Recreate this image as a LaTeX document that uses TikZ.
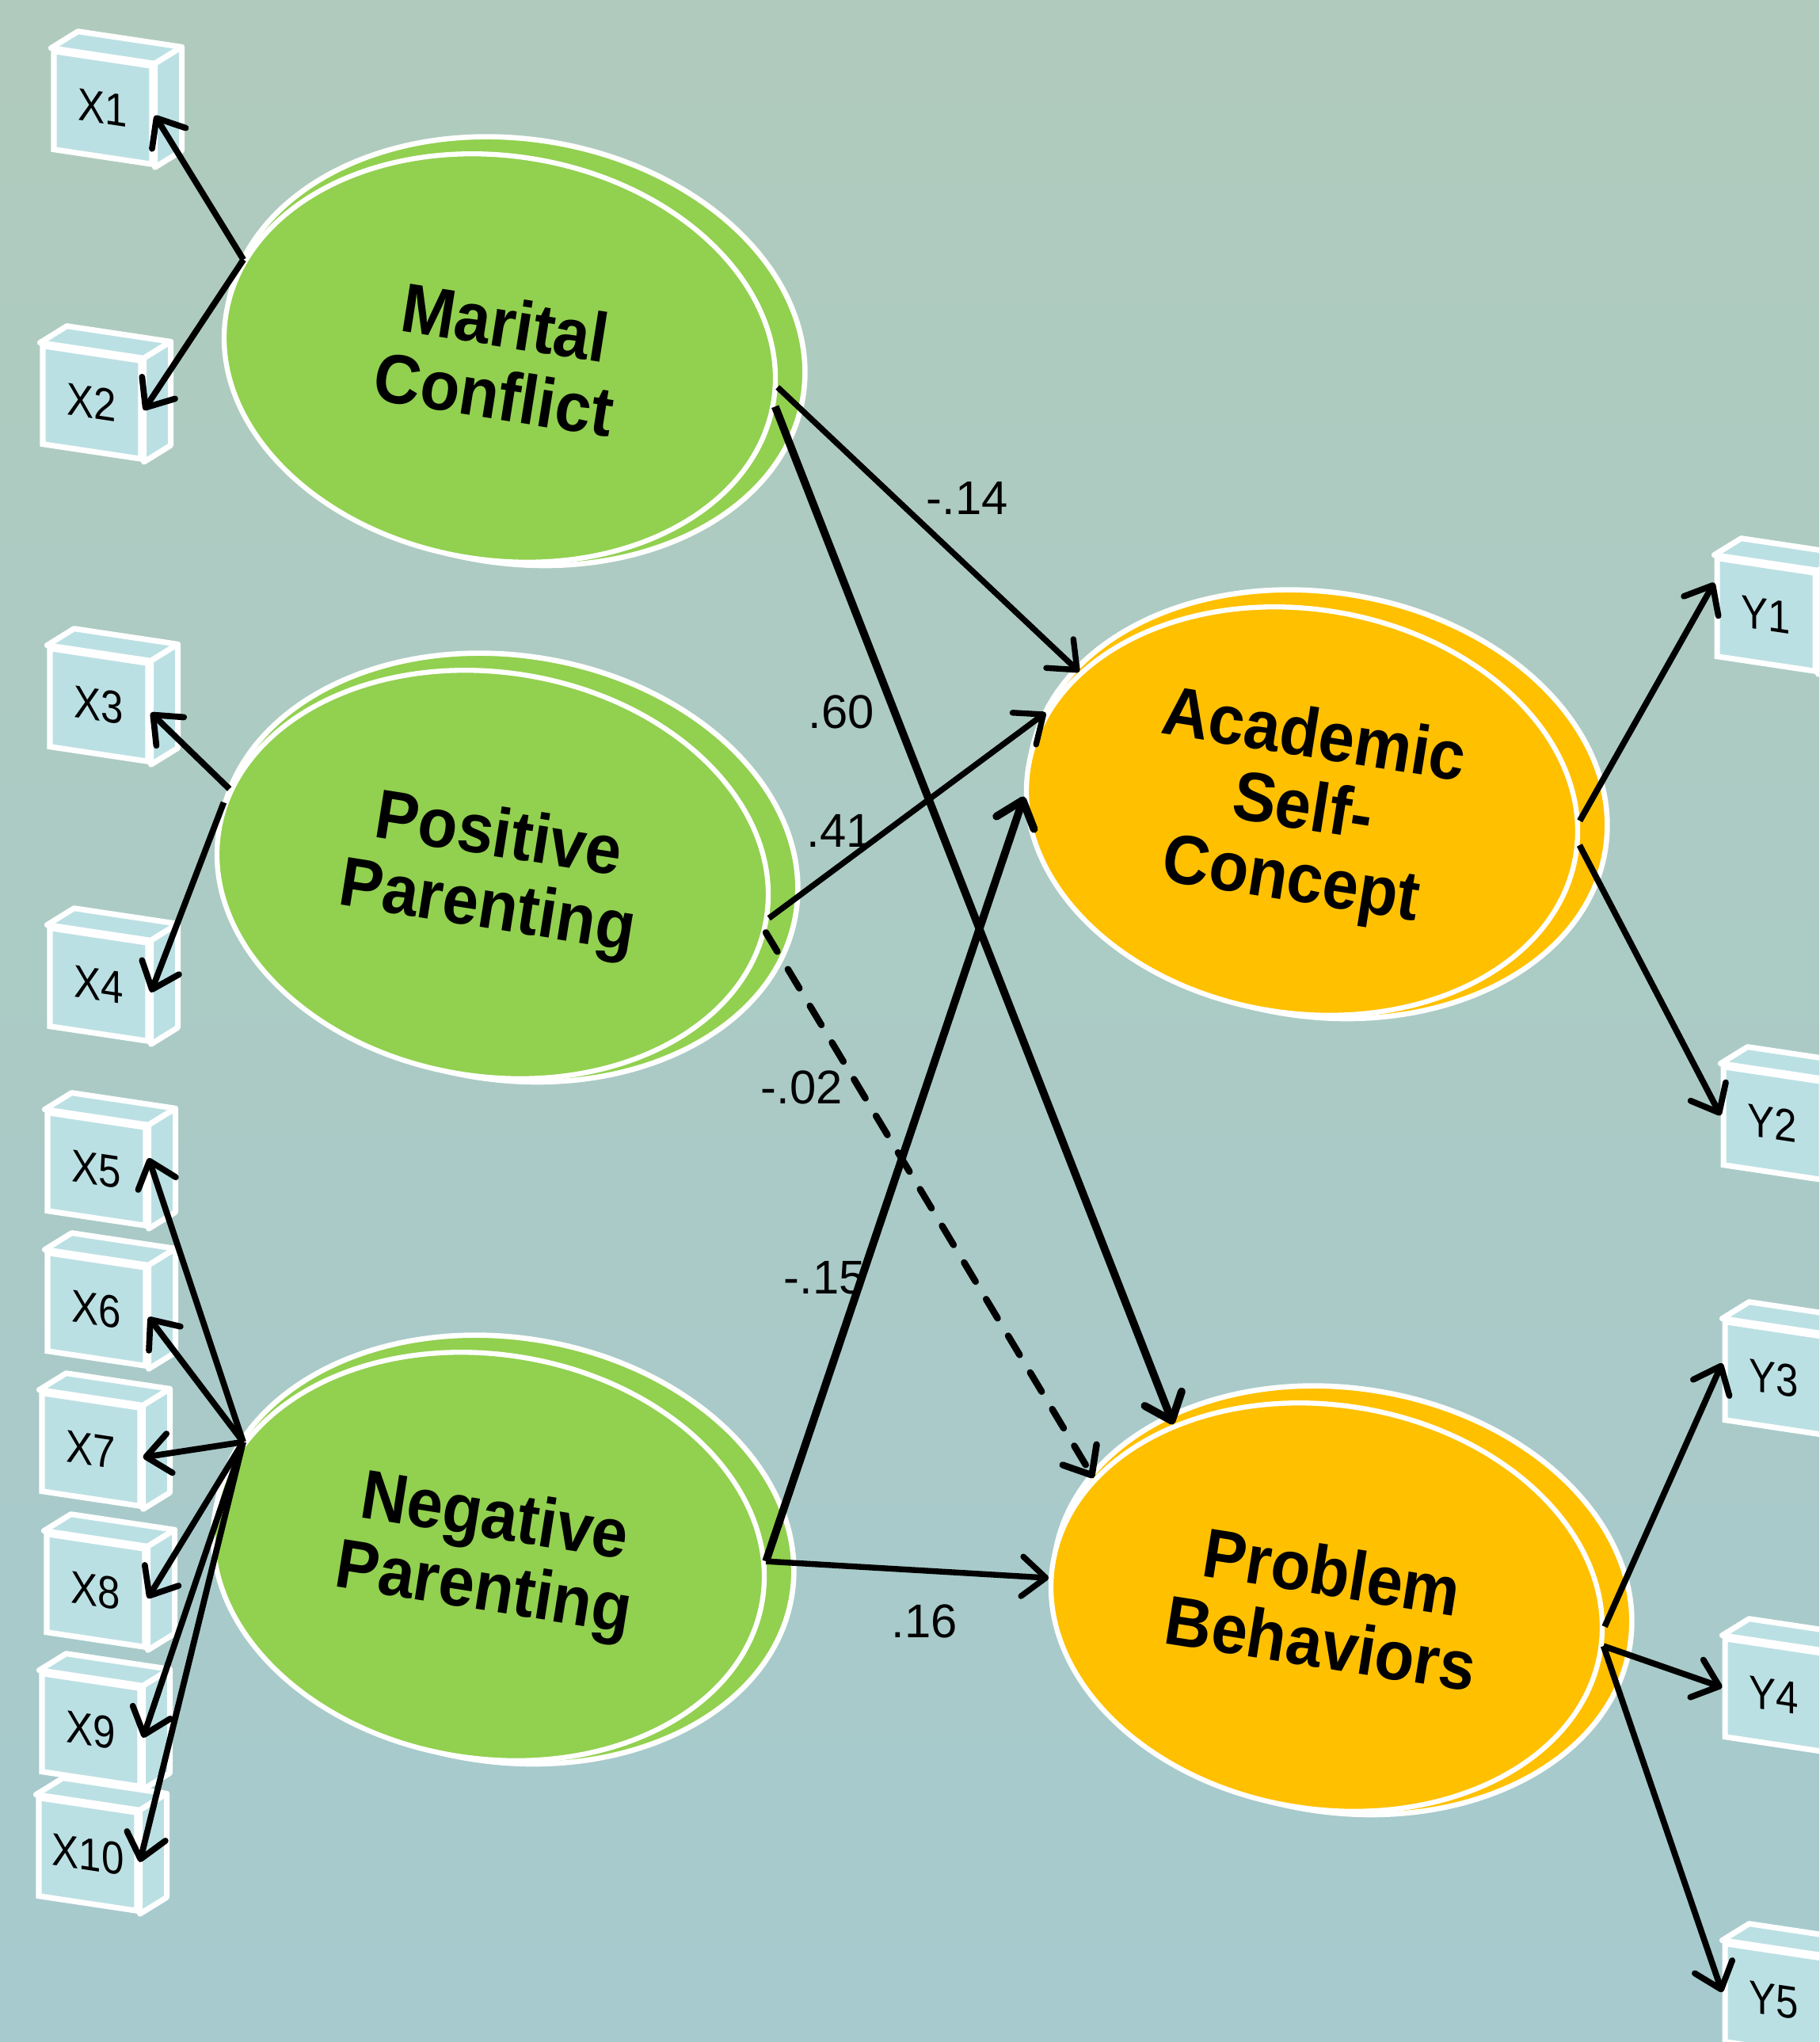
\documentclass[tikz,border=0pt]{standalone}
\usepackage{fontspec}
\setmainfont{Liberation Sans}
\newfontfamily\latentfont[FakeStretch=0.93]{Liberation Sans}
\newfontfamily\boxfont[FakeStretch=0.88]{Liberation Sans}
\usetikzlibrary{shapes.geometric, arrows.meta, shadows}

\definecolor{bgtop}{RGB}{176,203,189}
\definecolor{bgmid}{RGB}{157,192,195}
\definecolor{bgbot}{RGB}{166,202,206}
\definecolor{latgreen}{RGB}{146,208,80}
\definecolor{latorange}{RGB}{255,192,0}
\definecolor{boxblue}{RGB}{187,224,228}

% top and right face of an indicator box
\newcommand{\drawcube}[1]{%
    \filldraw[cubeside] (#1.north west) -- ++(0.34,0.21) -- ([shift={(0.34,0.21)}]#1.north east) -- (#1.north east) -- cycle;
    \filldraw[cubeside] (#1.north east) -- ++(0.34,0.21) -- ([shift={(0.34,0.21)}]#1.south east) -- (#1.south east) -- cycle;
}

\begin{document}
\begin{tikzpicture}[>={Straight Barb[round, length=0.3cm, width=0.5cm]},
    latent/.style={ellipse, draw=white, line width=1.8pt, minimum width=7cm, minimum height=5.1cm, inner sep=0pt, rotate=-9, align=center,
        font=\latentfont\bfseries\fontsize{25}{26}\selectfont,
        copy shadow={shadow xshift=0.19cm, shadow yshift=0.09cm, shadow scale=1.05}},
    indicator/.style={rectangle, draw=white, line width=2pt, fill=boxblue, minimum width=1.24cm, minimum height=1.24cm, inner sep=0pt, yslant=-0.15,
        font=\boxfont\fontsize{16.5}{18}\selectfont},
    cubeside/.style={draw=white, line width=2pt, fill=boxblue, line join=round},
    effect/.style={->, line width=2.1pt},
    loading/.style={->, line width=2.2pt},
    coef/.style={font=\fontsize{17}{20}\selectfont}]

    % Background
    \useasboundingbox (0,-25.78) rectangle (22.97,0);
    \clip (0,-25.78) rectangle (22.97,0);
    \shade[top color=bgtop, middle color=bgmid, bottom color=bgbot] (0,-25.78) rectangle (22.97,0);

    % Latent variables
    \node[latent, fill=latgreen] (mc) at (6.31,-4.52) {Marital\\Conflict};
    \node[latent, fill=latgreen] (pp) at (6.22,-11.04) {Positive\\Parenting};
    \node[latent, fill=latgreen] (np) at (6.17,-19.65) {Negative\\Parenting};
    \node[latent, fill=latorange] (asc) at (16.44,-10.24) {Academic\\Self-\\Concept};
    \node[latent, fill=latorange] (pb) at (16.75,-20.29) {Problem\\Behaviors};

    % Indicators
    \foreach \n/\x/\y in {1/1.30/-1.36, 2/1.16/-5.08, 3/1.25/-8.90, 4/1.25/-12.43, 5/1.22/-14.76,
                          6/1.22/-16.53, 7/1.15/-18.30, 8/1.21/-20.08, 9/1.15/-21.84, 10/1.11/-23.41} {
        \node[indicator] (x\n) at (\x,\y) {X\n};
        \drawcube{x\n}
    }
    \foreach \n/\x/\y in {1/22.30/-7.76, 2/22.38/-14.18, 3/22.40/-17.40, 4/22.40/-21.40, 5/22.40/-25.25} {
        \node[indicator] (y\n) at (\x,\y) {Y\n};
        \drawcube{y\n}
    }

    % Loadings
    \draw[loading] (mc.168) -- (x1.east);
    \draw[loading] (mc.168) -- (x2.east);
    \draw[loading] (pp.171) -- (x3.east);
    \draw[loading] (pp.174) -- (x4.east);
    \draw[loading] (np.164) -- (x5.20);
    \foreach \n in {6,...,10}
        \draw[loading] (np.164) -- (x\n.east);
    \draw[loading] (asc.7) -- (y1.155);
    \draw[loading] (asc.2) -- (y2.west);
    \draw[loading] (pb.5) -- (y3.172);
    \draw[loading] (pb.1) -- (y4.west);
    \draw[loading] (pb.1) -- (y5.west);

    % Paths
    \draw[effect] (mc.3) -- (asc.157);
    \draw[effect, line width=2.8pt] (mc.359) -- (pb.139);
    \draw[effect] (pp.0) -- (asc.168);
    \draw[effect, line width=2.4pt, line cap=round, dash pattern=on 0.28cm off 0.26cm] (pp.357) -- (pb.160);
    \draw[effect, line width=2.8pt] (np.8) -- (asc.186);
    \draw[effect] (np.8) -- (pb.183);

    \node[coef] (c1) at (12.21,-6.29) {-.14};
    \node[coef] (c2) at (10.62,-8.99) {.60};
    \node[coef] (c3) at (10.60,-10.49) {.41};
    \node[coef] (c4) at (10.12,-13.73) {-.02};
    \node[coef] (c5) at (10.41,-16.13) {-.15};
    \node[coef] (c6) at (11.67,-20.47) {.16};
\end{tikzpicture}
\end{document}
